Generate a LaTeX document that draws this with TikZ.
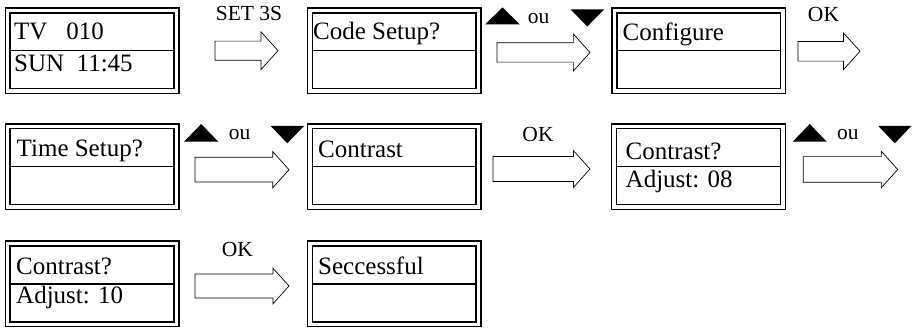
\documentclass[tikz,border=0pt]{standalone}
\usepackage{fontspec}
\setmainfont{Liberation Serif}
\usetikzlibrary{shapes.arrows}
\begin{document}
\begin{tikzpicture}[x=1pt,y=-1pt,
  lcd/.style={draw=black, line width=1.4pt, double=white, double distance=3.5pt,
    minimum width=168.7pt, minimum height=80.7pt, inner sep=0pt, outer sep=0pt},
  divider/.style={line width=1.4pt},
  lcdtext/.style={anchor=base west, inner sep=0pt, font=\fontsize{25}{29}\selectfont},
  lbl/.style={anchor=base, inner sep=0pt, font=\fontsize{21.5}{24}\selectfont},
  blockarrow/.style={single arrow, draw=black, fill=white, line width=0.7pt,
    inner xsep=0pt, single arrow tip angle=96, single arrow head indent=0pt,
    anchor=tail, outer sep=0pt},
  tri/.style={fill=black}]
\useasboundingbox (0,0) rectangle (913,328);
% boxes
\node[lcd] (b1) at (92,50.8) {};
\node[lcd] (b2) at (394.2,50.8) {};
\node[lcd] (b3) at (698.7,50.8) {};
\node[lcd] (b4) at (92,166.7) {};
\node[lcd] (b5) at (394.2,166.7) {};
\node[lcd] (b6) at (698.5,166.7) {};
\node[lcd] (b7) at (92,284) {};
\node[lcd] (b8) at (394.2,284) {};
\foreach \b in {b1,b2,b3,b4,b5,b6,b7,b8}{
  \draw[divider] ([xshift=2pt]\b.west) -- ([xshift=-2pt]\b.east);
}
% texts
\node[lcdtext] (t1a) at (14,40) {TV~~~010};
\node[lcdtext] (t1b) at (14,72) {SUN~~11:45};
\node[lcdtext] (t2) at (313,40) {Code Setup?};
\node[lcdtext] (t3) at (622.5,40.7) {Configure};
\node[lcdtext] (t4) at (16.5,156.7) {Time Setup?};
\node[lcdtext] (t5) at (318,157.7) {Contrast};
\node[lcdtext] (t6a) at (625.5,159.3) {Contrast?};
\node[lcdtext] (t6b) at (625.5,187.3) {Adjust: 08};
\node[lcdtext] (t7a) at (16,275) {Contrast?};
\node[lcdtext] (t7b) at (16,303.3) {Adjust: 10};
\node[lcdtext] (t8) at (318,275) {Seccessful};
% block arrows
\node[blockarrow, inner ysep=9.2pt, single arrow head extend=9.3pt, minimum height=63pt] (a1) at (215,50.7) {};
\node[blockarrow, inner ysep=9.3pt, single arrow head extend=8.8pt, minimum height=93pt] (a2) at (497,52.5) {};
\node[blockarrow, inner ysep=9.5pt, single arrow head extend=8.5pt, minimum height=62pt] (a3) at (798,51.3) {};
\node[blockarrow, inner ysep=12pt, single arrow head extend=5.8pt, minimum height=94pt] (a4) at (195,169.7) {};
\node[blockarrow, inner ysep=12.2pt, single arrow head extend=5.8pt, minimum height=97pt] (a5) at (493,169) {};
\node[blockarrow, inner ysep=12.5pt, single arrow head extend=5.3pt, minimum height=94.4pt] (a6) at (803.3,169.5) {};
\node[blockarrow, inner ysep=11.7pt, single arrow head extend=5.8pt, minimum height=94pt] (a7) at (195,286) {};
% labels
\node[lbl] (l1) at (249,20.7) {SET 3S};
\node[lbl] (l2) at (538.5,23.3) {ou};
\node[lbl] (l3) at (823.5,21.7) {OK};
\node[lbl] (l4) at (239.7,139.3) {ou};
\node[lbl] (l5) at (538,141.7) {OK};
\node[lbl] (l6) at (847.8,139.3) {ou};
\node[lbl] (l7) at (237.5,256.7) {OK};
% triangles
\fill[tri] (485,24.5) -- (520,24.5) -- (502.5,7.5) -- cycle;
\fill[tri] (570.7,9.5) -- (604,9.5) -- (587.3,26.5) -- cycle;
\fill[tri] (184,141.7) -- (218.3,141.7) -- (201.2,124) -- cycle;
\fill[tri] (270.7,126) -- (304,126) -- (287.3,143.3) -- cycle;
\fill[tri] (792.7,141.7) -- (826.7,141.7) -- (809.7,124) -- cycle;
\fill[tri] (878.3,126) -- (911.3,126) -- (894.8,143.3) -- cycle;
\end{tikzpicture}
\end{document}
